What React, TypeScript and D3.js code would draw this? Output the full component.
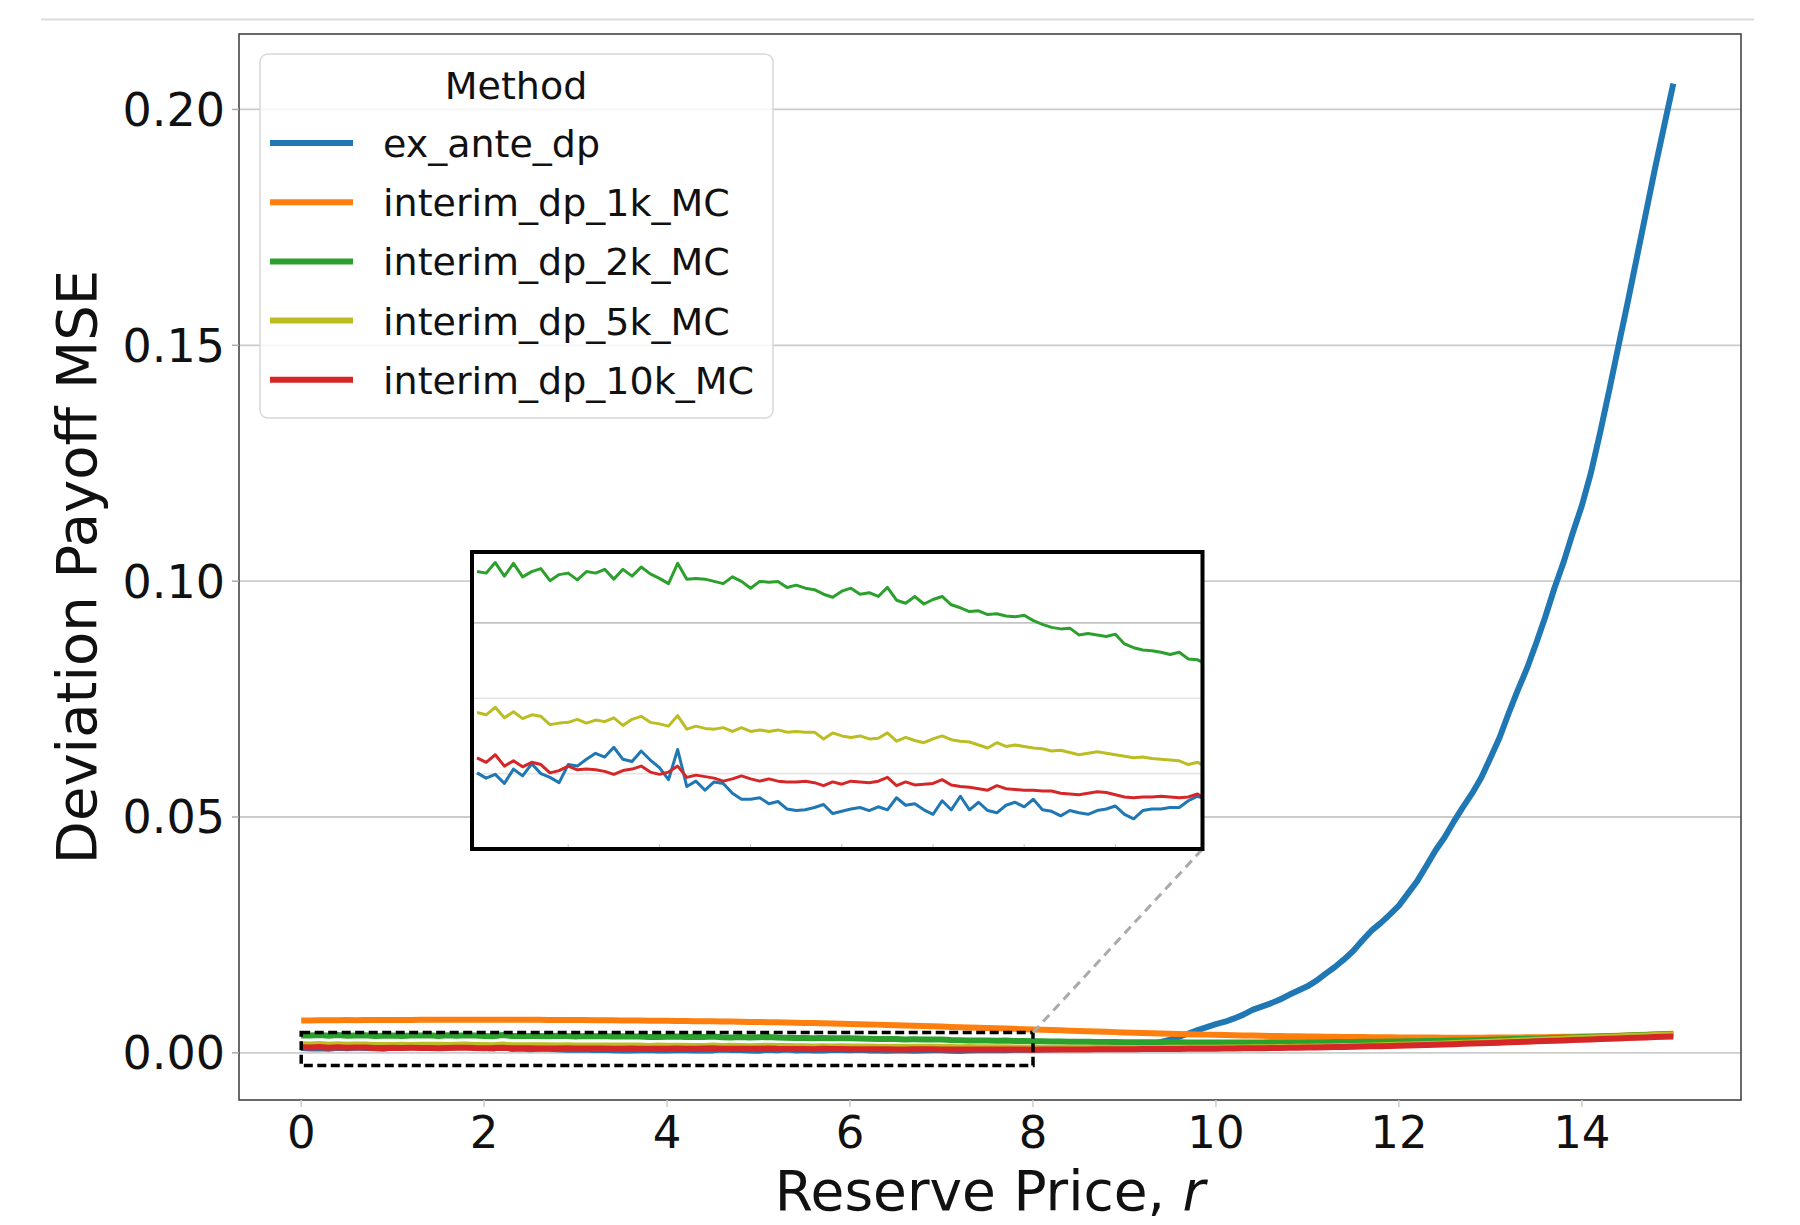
import * as d3 from 'd3';

// reserve price grid, 0 .. 15 in steps of 0.1
const reservePrice = d3.range(0, 151).map((i) => i / 10);

// MSE values, in units of 1e-3
const exAnteDp = [
  1.01, 0.94, 0.99, 0.87, 1.06, 0.97, 1.13, 1.00, 0.95, 0.88,
  1.12, 1.10, 1.19, 1.27, 1.22, 1.35, 1.19, 1.16, 1.30, 1.18,
  1.08, 0.92, 1.32, 0.83, 0.90, 0.78, 0.89, 0.87, 0.74, 0.66,
  0.66, 0.68, 0.60, 0.63, 0.53, 0.51, 0.52, 0.55, 0.59, 0.47,
  0.50, 0.53, 0.55, 0.51, 0.56, 0.52, 0.68, 0.58, 0.60, 0.52,
  0.46, 0.64, 0.52, 0.70, 0.52, 0.62, 0.51, 0.48, 0.58, 0.62,
  0.56, 0.66, 0.52, 0.50, 0.44, 0.51, 0.48, 0.46, 0.51, 0.53,
  0.57, 0.46, 0.40, 0.51, 0.53, 0.53, 0.55, 0.55, 0.64, 0.70,
  0.66, 0.70, 0.74, 0.80, 0.86, 0.93, 1.00, 1.08, 1.17, 1.27,
  1.38, 1.52, 1.70, 1.95, 2.30, 2.80, 3.45, 4.10, 4.80, 5.45,
  6.10, 6.60, 7.30, 8.10, 9.10, 9.80, 10.50, 11.30, 12.30, 13.20,
  14.10, 15.30, 16.80, 18.20, 19.80, 21.60, 23.80, 25.90, 27.50, 29.30,
  31.20, 33.80, 36.40, 39.60, 42.90, 45.70, 49.00, 52.10, 55.00, 58.30,
  62.50, 66.80, 72.00, 76.90, 81.50, 86.80, 92.40, 98.50, 104.0, 110.2,
  116.0, 123.0, 131.5, 140.5, 149.8, 159.0, 168.5, 178.0, 187.5, 196.5,
  205.5,
];

const interim1k = [
  6.85, 6.88, 6.90, 6.89, 6.92, 6.94, 6.93, 6.95, 6.96, 6.95,
  6.97, 6.98, 6.96, 6.99, 7.00, 6.99, 7.01, 7.00, 7.02, 7.01,
  7.02, 7.00, 7.03, 7.01, 7.00, 6.99, 7.00, 6.98, 6.97, 6.98,
  6.96, 6.95, 6.93, 6.92, 6.90, 6.88, 6.87, 6.84, 6.82, 6.80,
  6.78, 6.76, 6.74, 6.72, 6.70, 6.67, 6.64, 6.62, 6.59, 6.56,
  6.53, 6.50, 6.46, 6.43, 6.39, 6.35, 6.31, 6.27, 6.23, 6.18,
  6.13, 6.08, 6.03, 5.98, 5.92, 5.86, 5.80, 5.74, 5.68, 5.62,
  5.56, 5.50, 5.44, 5.38, 5.32, 5.26, 5.20, 5.14, 5.08, 5.02,
  4.96, 4.90, 4.83, 4.77, 4.70, 4.64, 4.57, 4.51, 4.45, 4.39,
  4.33, 4.27, 4.21, 4.16, 4.10, 4.05, 4.00, 3.95, 3.90, 3.86,
  3.81, 3.77, 3.73, 3.69, 3.66, 3.62, 3.59, 3.56, 3.53, 3.50,
  3.47, 3.45, 3.42, 3.40, 3.38, 3.36, 3.34, 3.32, 3.30, 3.29,
  3.27, 3.26, 3.25, 3.24, 3.23, 3.22, 3.22, 3.22, 3.22, 3.22,
  3.23, 3.24, 3.25, 3.27, 3.29, 3.31, 3.33, 3.36, 3.39, 3.42,
  3.46, 3.50, 3.54, 3.59, 3.64, 3.70, 3.76, 3.83, 3.90, 3.98,
  4.06,
];

const interim2k = [
  3.68, 3.66, 3.80, 3.62, 3.79, 3.61, 3.68, 3.72, 3.56, 3.64,
  3.66, 3.57, 3.68, 3.66, 3.71, 3.58, 3.71, 3.62, 3.74, 3.65,
  3.59, 3.52, 3.79, 3.58, 3.59, 3.58, 3.55, 3.52, 3.61, 3.55,
  3.46, 3.55, 3.54, 3.55, 3.47, 3.50, 3.46, 3.44, 3.38, 3.34,
  3.42, 3.46, 3.38, 3.40, 3.35, 3.47, 3.30, 3.26, 3.35, 3.25,
  3.31, 3.35, 3.24, 3.20, 3.15, 3.16, 3.11, 3.12, 3.09, 3.08,
  3.10, 3.03, 2.98, 2.94, 2.92, 2.93, 2.84, 2.86, 2.84, 2.82,
  2.85, 2.72, 2.67, 2.64, 2.63, 2.61, 2.58, 2.61, 2.52, 2.51,
  2.45, 2.43, 2.41, 2.39, 2.37, 2.35, 2.33, 2.31, 2.30, 2.28,
  2.27, 2.26, 2.25, 2.24, 2.23, 2.22, 2.22, 2.21, 2.21, 2.20,
  2.20, 2.20, 2.20, 2.20, 2.21, 2.21, 2.22, 2.22, 2.23, 2.24,
  2.25, 2.26, 2.27, 2.28, 2.30, 2.31, 2.33, 2.35, 2.37, 2.39,
  2.41, 2.44, 2.47, 2.50, 2.53, 2.56, 2.60, 2.64, 2.68, 2.72,
  2.76, 2.81, 2.86, 2.91, 2.96, 3.01, 3.07, 3.13, 3.19, 3.25,
  3.31, 3.38, 3.45, 3.52, 3.59, 3.66, 3.73, 3.80, 3.87, 3.94,
  4.00,
];

const interim5k = [
  1.81, 1.78, 1.88, 1.74, 1.82, 1.73, 1.78, 1.76, 1.65, 1.67,
  1.68, 1.72, 1.67, 1.71, 1.69, 1.74, 1.64, 1.72, 1.76, 1.68,
  1.66, 1.63, 1.77, 1.59, 1.63, 1.60, 1.59, 1.61, 1.56, 1.61,
  1.56, 1.58, 1.56, 1.58, 1.55, 1.56, 1.55, 1.55, 1.46, 1.54,
  1.50, 1.48, 1.50, 1.46, 1.47, 1.54, 1.43, 1.48, 1.44, 1.41,
  1.46, 1.50, 1.45, 1.43, 1.42, 1.38, 1.34, 1.41, 1.36, 1.38,
  1.36, 1.34, 1.33, 1.30, 1.31, 1.28, 1.25, 1.27, 1.29, 1.27,
  1.25, 1.23, 1.21, 1.22, 1.20, 1.19, 1.18, 1.17, 1.12, 1.15,
  1.09, 1.09, 1.08, 1.08, 1.07, 1.07, 1.06, 1.06, 1.06, 1.05,
  1.05, 1.05, 1.05, 1.05, 1.05, 1.06, 1.06, 1.07, 1.08, 1.09,
  1.10, 1.11, 1.13, 1.14, 1.16, 1.18, 1.20, 1.22, 1.25, 1.27,
  1.30, 1.33, 1.36, 1.40, 1.43, 1.47, 1.51, 1.55, 1.60, 1.65,
  1.70, 1.75, 1.81, 1.87, 1.93, 1.99, 2.06, 2.13, 2.20, 2.28,
  2.35, 2.43, 2.51, 2.59, 2.67, 2.75, 2.83, 2.91, 3.00, 3.08,
  3.16, 3.24, 3.32, 3.40, 3.48, 3.56, 3.63, 3.70, 3.77, 3.84,
  3.90,
];

const interim10k = [
  1.21, 1.15, 1.25, 1.10, 1.17, 1.09, 1.15, 1.12, 1.01, 1.04,
  1.10, 1.05, 1.06, 1.05, 1.03, 0.99, 1.04, 1.06, 1.10, 1.02,
  0.99, 1.02, 1.10, 0.95, 0.98, 0.96, 0.94, 0.90, 0.93, 0.97,
  0.93, 0.90, 0.93, 0.90, 0.89, 0.89, 0.90, 0.88, 0.84, 0.89,
  0.86, 0.90, 0.89, 0.88, 0.90, 0.95, 0.84, 0.89, 0.85, 0.86,
  0.87, 0.92, 0.85, 0.83, 0.82, 0.80, 0.78, 0.84, 0.80, 0.79,
  0.78, 0.78, 0.77, 0.77, 0.74, 0.73, 0.72, 0.74, 0.76, 0.75,
  0.72, 0.69, 0.68, 0.69, 0.69, 0.70, 0.69, 0.68, 0.69, 0.73,
  0.66, 0.68, 0.69, 0.70, 0.71, 0.72, 0.73, 0.74, 0.75, 0.76,
  0.77, 0.78, 0.79, 0.80, 0.81, 0.82, 0.83, 0.84, 0.86, 0.87,
  0.89, 0.91, 0.93, 0.95, 0.97, 0.99, 1.01, 1.04, 1.06, 1.09,
  1.12, 1.15, 1.18, 1.22, 1.25, 1.29, 1.33, 1.37, 1.41, 1.46,
  1.51, 1.56, 1.61, 1.66, 1.72, 1.78, 1.84, 1.90, 1.96, 2.02,
  2.09, 2.15, 2.22, 2.29, 2.36, 2.43, 2.50, 2.57, 2.64, 2.71,
  2.78, 2.85, 2.92, 2.99, 3.06, 3.13, 3.20, 3.27, 3.34, 3.41,
  3.48,
];

const methods = ['ex_ante_dp', 'interim_dp_1k_MC', 'interim_dp_2k_MC', 'interim_dp_5k_MC', 'interim_dp_10k_MC'];
const methodValues = [exAnteDp, interim1k, interim2k, interim5k, interim10k];
const colors = ['#1f77b4', '#ff7f0e', '#2ca02c', '#bcbd22', '#d62728'];

const xTicks = [0, 2, 4, 6, 8, 10, 12, 14];
const yTicks = [0, 0.05, 0.1, 0.15, 0.2];
const insetXTicks = [1, 2, 3, 4, 5, 6, 7];
const insetYTicks = [0.001, 0.002, 0.003];

// zoomed region marked on the main axes
const zoomX = [0, 8];
const zoomY = [-0.0027, 0.0043];

const FONT = 'DejaVu Sans, sans-serif';

const App = () => {
  const series = methodValues.map((vals) => vals.map((v, i) => ({ x: reservePrice[i], y: v / 1000 })));

  // main axes
  const x = d3.scaleLinear().domain([-0.68, 15.74]).range([239, 1741]);
  const y = d3.scaleLinear().domain([-0.01, 0.216]).range([1100, 34]);

  // inset axes
  const ix = d3.scaleLinear().domain([-0.055, 7.955]).range([472, 1202.5]);
  const iy = d3.scaleLinear().domain([0, 0.00394]).range([849, 552]);

  const line = d3.line<{ x: number; y: number }>().x(d => x(d.x)).y(d => y(d.y));
  const insetLine = d3.line<{ x: number; y: number }>().x(d => ix(d.x)).y(d => iy(d.y));

  const [x0, x1] = ix.range();
  const [yb, yt] = iy.range();

  return (
    <svg width={1800} height={1225} style={{ position: 'absolute', left: 0, top: 0, background: '#fff' }}
      fontFamily={FONT}>
      <defs>
        <clipPath id="inset-clip">
          <rect x={x0} y={yt} width={x1 - x0} height={yb - yt} />
        </clipPath>
      </defs>

      <line x1={41} x2={1754} y1={19.5} y2={19.5} stroke="#dcdcdc" strokeWidth={2} />

      {/* grid */}
      {yTicks.map(t => (
        <line key={t} x1={239} x2={1741} y1={y(t)} y2={y(t)} stroke="#cccccc" strokeWidth={1.8} />
      ))}

      {/* series */}
      {series.map((s, i) => (
        <path key={methods[i]} d={line(s) ?? ''} fill="none" stroke={colors[i]} strokeWidth={6}
          strokeLinejoin="round" />
      ))}

      {/* frame */}
      <rect x={239} y={34} width={1502} height={1066} fill="none" stroke="#444" strokeWidth={1.6} />

      {/* y axis */}
      {yTicks.map(t => (
        <g key={t}>
          <line x1={232} x2={239} y1={y(t)} y2={y(t)} stroke="#aaa" strokeWidth={1.5} />
          <text x={225} y={y(t) + 16.5} textAnchor="end" fontSize={46} fill="#111">{t.toFixed(2)}</text>
        </g>
      ))}
      {/* x axis */}
      {xTicks.map(t => (
        <g key={t}>
          <line x1={x(t)} x2={x(t)} y1={1100} y2={1107} stroke="#ccc" strokeWidth={1.5} />
          <text x={x(t)} y={1148} textAnchor="middle" fontSize={45} fill="#111">{t}</text>
        </g>
      ))}

      <text x={990} y={1210} textAnchor="middle" fontSize={55} fill="#111">
        Reserve Price, <tspan fontStyle="italic">r</tspan>
      </text>
      <text transform="translate(96,567) rotate(-90)" textAnchor="middle" fontSize={56} fill="#111">
        Deviation Payoff MSE
      </text>

      {/* zoom marker */}
      <rect x={x(zoomX[0])} y={y(zoomY[1])} width={x(zoomX[1]) - x(zoomX[0])} height={y(zoomY[0]) - y(zoomY[1])}
        fill="none" stroke="#000" strokeWidth={3.5} strokeDasharray="9,4.5" />
      <line x1={x(zoomX[1])} y1={y(zoomY[1])} x2={x1} y2={yb} stroke="#aaa" strokeWidth={3}
        strokeDasharray="9,6" />

      {/* inset */}
      <rect x={x0} y={yt} width={x1 - x0} height={yb - yt} fill="#fff" />
      {insetYTicks.map((t, i) => (
        <line key={t} x1={x0} x2={x1} y1={iy(t)} y2={iy(t)} stroke={i === 2 ? '#c4c4c4' : '#e6e6e6'} strokeWidth={1.6} />
      ))}
      {insetXTicks.map(t => (
        <line key={t} x1={ix(t)} x2={ix(t)} y1={yb} y2={yb - 5} stroke="#ccc" strokeWidth={1.2} />
      ))}
      <g clipPath="url(#inset-clip)">
        {series.map((s, i) =>
          i === 1 ? null : (
            <path key={methods[i]} d={insetLine(s.filter(d => d.x <= 8.05)) ?? ''} fill="none"
              stroke={colors[i]} strokeWidth={3} strokeLinejoin="round" />
          )
        )}
      </g>
      <rect x={x0} y={yt} width={x1 - x0} height={yb - yt} fill="none" stroke="#000" strokeWidth={4} />

      {/* legend */}
      <rect x={260} y={54} width={513} height={364} rx={8} fill="#fff" fillOpacity={0.8}
        stroke="#d8d8d8" strokeWidth={1.5} />
      <text x={516} y={99} textAnchor="middle" fontSize={38} fill="#111">Method</text>
      {methods.map((m, i) => {
        const ly = 143 + i * 59.2;
        return (
          <g key={m}>
            <line x1={270} x2={353} y1={ly} y2={ly} stroke={colors[i]} strokeWidth={6} />
            <text x={383} y={ly + 14} fontSize={38} fill="#111">{m}</text>
          </g>
        );
      })}
    </svg>
  );
};

export default App;
